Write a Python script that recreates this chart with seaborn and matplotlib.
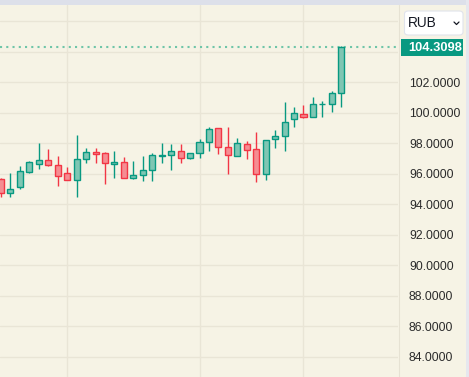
import matplotlib
matplotlib.use("Agg")
import matplotlib.pyplot as plt
from matplotlib.patches import Rectangle, FancyBboxPatch
from matplotlib.lines import Line2D
import seaborn as sns
import numpy as np

# ---- data ----
opens = [95.64, 94.72, 95.13, 96.12, 96.64, 96.90, 96.54, 96.01, 95.55, 96.95,
         97.43, 97.32, 96.64, 96.73, 95.69, 95.88, 96.21, 97.17, 97.19, 97.46,
         97.00, 97.32, 98.05, 98.96, 97.72, 97.13, 97.91, 97.59, 95.95, 98.24,
         98.44, 99.55, 99.88, 99.69, 100.54, 100.54, 101.26]
highs = [95.70, 96.03, 96.49, 96.84, 98.02, 97.61, 97.15, 96.41, 98.52, 97.65,
         97.65, 97.39, 97.48, 97.08, 96.82, 97.15, 97.32, 97.98, 97.93, 97.93,
         97.32, 98.28, 99.07, 98.98, 99.03, 98.33, 98.13, 98.70, 98.20, 98.85,
         100.67, 100.34, 100.47, 101.00, 100.73, 101.41, 104.35]
lows = [94.46, 94.46, 95.00, 96.05, 96.31, 96.52, 95.20, 95.55, 94.48, 96.71,
        96.71, 95.29, 95.72, 95.69, 95.65, 95.53, 95.53, 96.71, 96.23, 96.67,
        96.93, 97.00, 97.46, 97.30, 95.97, 97.13, 96.93, 95.46, 95.57, 97.69,
        97.50, 99.03, 99.62, 99.69, 99.69, 100.01, 100.38]
closes = [94.72, 94.98, 96.14, 96.73, 96.90, 96.54, 95.82, 95.55, 96.93, 97.43,
          97.30, 96.67, 96.75, 95.69, 95.88, 96.21, 97.19, 97.23, 97.46, 97.00,
          97.32, 98.05, 98.90, 97.72, 97.19, 97.98, 97.52, 95.95, 98.18, 98.44,
          99.36, 99.95, 99.69, 100.54, 100.56, 101.26, 104.3098]
price_ticks = [84, 86, 88, 90, 92, 94, 96, 98, 100, 102, 104, 106]
shown_ticks = [84, 86, 88, 90, 92, 94, 96, 98, 100, 102]
vgrid_idx = [7, 21, 32]
currency = "RUB"
last_price_label = "104.3098"

# ---- style ----
sns.set_theme(style="white")
plt.rcParams['font.family'] = ['Liberation Sans', 'DejaVu Sans']

BG = '#f6f3e5'
GREEN = '#089981'
RED = '#f23645'
GREEN_FILL = '#7fc6b3'
RED_FILL = '#f58d92'
GRID = '#e9e5d6'

W, H = 469, 377
fig = plt.figure(figsize=(W / 100, H / 100), dpi=100)
fig.patch.set_facecolor(BG)

def fx(x):
    return x / W

def fy(y):
    return 1 - y / H

ax = fig.add_axes([0, 0, 398 / W, 372 / H])
ax.set_facecolor(BG)
for s in ax.spines.values():
    s.set_visible(False)

n = len(opens)
x = np.arange(n)
o = np.array(opens); c = np.array(closes)
hi = np.array(highs); lo = np.array(lows)
up = c >= o

# wicks
ax.vlines(x[up], lo[up], hi[up], color=GREEN, lw=1.0, zorder=3)
ax.vlines(x[~up], lo[~up], hi[~up], color=RED, lw=1.0, zorder=3)
# bodies
bottoms = np.minimum(o, c)
heights = np.maximum(np.abs(c - o), 0.02)
ax.bar(x[up], heights[up], bottom=bottoms[up], width=0.64,
       color=GREEN_FILL, edgecolor=GREEN, linewidth=1.0, zorder=4)
ax.bar(x[~up], heights[~up], bottom=bottoms[~up], width=0.64,
       color=RED_FILL, edgecolor=RED, linewidth=1.0, zorder=4)

# last price dotted line
ax.axhline(closes[-1], color='#6fc5a8', lw=1.5, linestyle=(0, (1, 2)), zorder=2)

ax.set_xlim(-0.106, 42.0)
ax.set_ylim(82.66, 107.05)

ax.set_xticks(vgrid_idx)
ax.set_xticklabels([])
ax.set_yticks(price_ticks)
ax.set_yticklabels([f"{v:.4f}" if v in shown_ticks else "" for v in price_ticks])
ax.yaxis.tick_right()
ax.tick_params(axis='y', length=0, pad=7.9, labelsize=8.8, labelcolor='#2b2b2b')
ax.tick_params(axis='x', length=0)
ax.grid(True, color=GRID, lw=1.0, zorder=0)
ax.set_axisbelow(True)

# frame pieces
fig.add_artist(Rectangle((0, fy(5)), 1, 5 / H, transform=fig.transFigure,
                         facecolor='#dde0ea', edgecolor='none', zorder=5))
fig.add_artist(Rectangle((fx(466), 0), 3 / W, 1, transform=fig.transFigure,
                         facecolor='#e6e7ee', edgecolor='none', zorder=5))
fig.add_artist(Line2D([fx(399), fx(399)], [0, fy(5)], transform=fig.transFigure,
                      color='#e6e2d3', lw=0.8, zorder=5))

# last price label
fig.add_artist(Rectangle((fx(401), fy(56)), 61.5 / W, 16.7 / H,
                         transform=fig.transFigure, facecolor=GREEN,
                         edgecolor='none', zorder=6))
fig.text(fx(408.5), fy(47.8), last_price_label, color='white', fontsize=9.3,
         fontweight='bold', ha='left', va='center', zorder=7)

# currency dropdown
fig.add_artist(FancyBboxPatch((fx(404.5), fy(35)), 58.5 / W, 24 / H,
                              boxstyle="round,pad=0,rounding_size=0.008",
                              transform=fig.transFigure, facecolor='white',
                              edgecolor='#e0e3eb', lw=0.8, zorder=6))
fig.text(fx(407.5), fy(23.2), currency, color='#131722', fontsize=9.8,
         ha='left', va='center', zorder=7)
fig.add_artist(Line2D([fx(454), fx(456.5), fx(459)], [fy(22), fy(24.5), fy(22)],
                      transform=fig.transFigure, color='#131722', lw=0.9, zorder=7))

fig.savefig("out.png", dpi=100, facecolor=BG)
